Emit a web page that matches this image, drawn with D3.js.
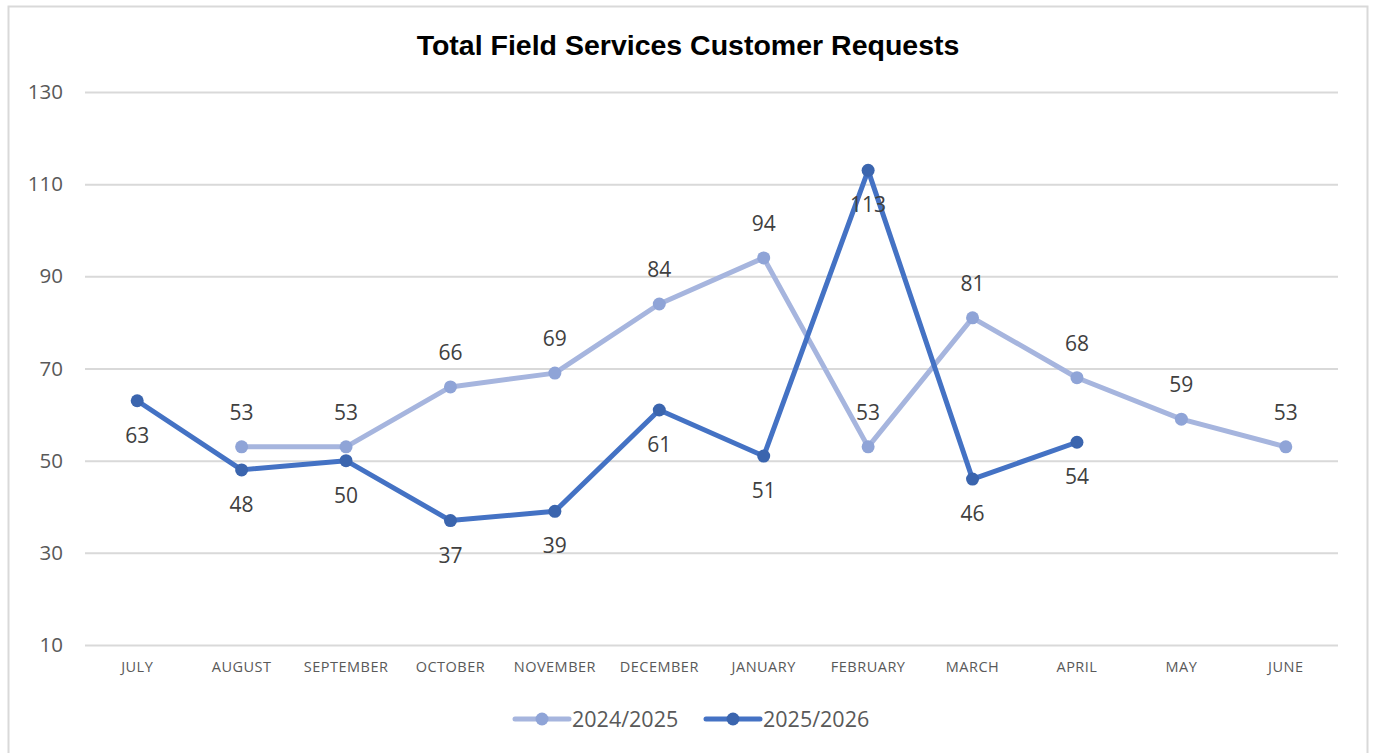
<!DOCTYPE html>
<html>
<head>
<meta charset="utf-8">
<script src="https://cdn.jsdelivr.net/npm/d3@7"></script>
<style>
  body { margin: 0; background: #fff; }
  text { font-family: "Open Sans", "Liberation Sans", sans-serif; }
</style>
</head>
<body>
<script>
// chart data
var months = ["JULY", "AUGUST", "SEPTEMBER", "OCTOBER", "NOVEMBER", "DECEMBER",
              "JANUARY", "FEBRUARY", "MARCH", "APRIL", "MAY", "JUNE"];
var series2425 = [null, 53, 53, 66, 69, 84, 94, 53, 81, 68, 59, 53];
var series2526 = [63, 48, 50, 37, 39, 61, 51, 113, 46, 54, null, null];
var seriesNames = ["2024/2025", "2025/2026"];
var yTicks = [10, 30, 50, 70, 90, 110, 130];

var svgWidth = 1374, svgHeight = 753;
var margin = { top: 92, right: 36, bottom: 108, left: 85 };
var chartWidth = svgWidth - margin.left - margin.right;
var chartHeight = svgHeight - margin.top - margin.bottom;

var svg = d3.select("body").append("svg")
  .attr("width", svgWidth)
  .attr("height", svgHeight);

// outer border
svg.append("rect")
  .attr("x", 8.5).attr("y", 6.5)
  .attr("width", 1359).attr("height", 760)
  .attr("fill", "#fff")
  .attr("stroke", "#d9d9d9")
  .attr("stroke-width", 2);

// title
svg.append("text")
  .attr("x", 688).attr("y", 55)
  .attr("text-anchor", "middle")
  .style("font-size", "28.5px")
  .style("font-weight", "bold")
  .style("font-family", "'Liberation Sans', Arial, sans-serif")
  .attr("fill", "#000")
  .text("Total Field Services Customer Requests");

var g = svg.append("g")
  .attr("transform", "translate(" + margin.left + "," + margin.top + ")");

var x = d3.scaleBand().domain(months).range([0, chartWidth]);
var y = d3.scaleLinear().domain([10, 130]).range([chartHeight, 0]);

// gridlines
g.append("g")
  .call(d3.axisLeft(y).tickValues(yTicks).tickSize(-chartWidth).tickFormat(""))
  .call(function(a) {
    a.select(".domain").remove();
    a.selectAll("line").attr("stroke", "#d9d9d9").attr("stroke-width", 2);
  });

// y labels
g.append("g")
  .call(d3.axisLeft(y).tickValues(yTicks).tickSize(0).tickPadding(22))
  .call(function(a) {
    a.select(".domain").remove();
    a.selectAll("text")
      .attr("fill", "#595959")
      .style("font-size", "20.5px");
  });

// x labels
g.append("g")
  .attr("transform", "translate(0," + chartHeight + ")")
  .call(d3.axisBottom(x).tickSize(0).tickPadding(17))
  .call(function(a) {
    a.select(".domain").remove();
    a.selectAll("text")
      .attr("fill", "#595959")
      .style("font-size", "14.5px")
      .style("letter-spacing", "0.5px");
  });

var styles = [
  { line: "#a6b5de", dot: "#8fa4d7", dy: -27 },
  { line: "#4472c4", dot: "#3b65ae", dy: 42 }
];

function drawSeries(values, st) {
  var pts = months.map(function(m, i) { return { m: m, v: values[i] }; })
    .filter(function(d) { return d.v != null; });
  var line = d3.line()
    .x(function(d) { return x(d.m) + x.bandwidth() / 2; })
    .y(function(d) { return y(d.v); });
  g.append("path")
    .datum(pts)
    .attr("d", line)
    .attr("fill", "none")
    .attr("stroke", st.line)
    .attr("stroke-width", 5)
    .attr("stroke-linejoin", "round")
    .attr("stroke-linecap", "round");
  g.selectAll(null).data(pts).enter().append("circle")
    .attr("cx", function(d) { return x(d.m) + x.bandwidth() / 2; })
    .attr("cy", function(d) { return y(d.v); })
    .attr("r", 6.5)
    .attr("fill", st.dot);
  g.selectAll(null).data(pts).enter().append("text")
    .attr("x", function(d) { return x(d.m) + x.bandwidth() / 2; })
    .attr("y", function(d) { return y(d.v) + st.dy; })
    .attr("text-anchor", "middle")
    .attr("fill", "#404040")
    .style("font-size", "21px")
    .text(function(d) { return d.v; });
}

drawSeries(series2425, styles[0]);
drawSeries(series2526, styles[1]);

// legend
var legend = svg.append("g").attr("transform", "translate(0,719)");
var legendX = [515, 706];
seriesNames.forEach(function(name, i) {
  var lg = legend.append("g").attr("transform", "translate(" + legendX[i] + ",0)");
  lg.append("line")
    .attr("x1", 0).attr("x2", 54)
    .attr("stroke", styles[i].line)
    .attr("stroke-width", 5)
    .attr("stroke-linecap", "round");
  lg.append("circle").attr("cx", 27).attr("r", 6.5).attr("fill", styles[i].dot);
  lg.append("text")
    .attr("x", 57).attr("y", 8)
    .attr("fill", "#595959")
    .style("font-size", "21.5px")
    .text(name);
});
</script>
</body>
</html>
